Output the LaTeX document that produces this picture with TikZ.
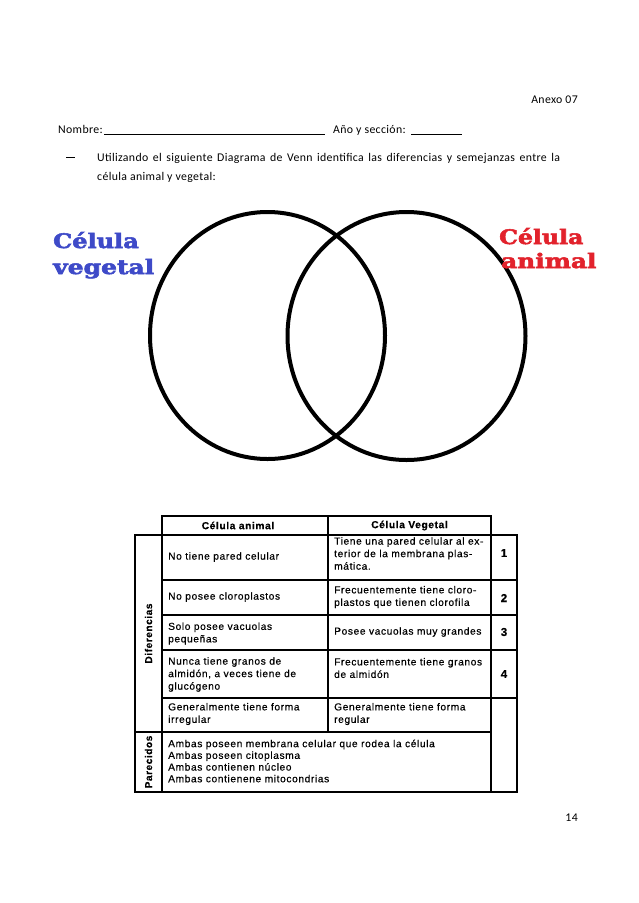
\documentclass[tikz,border=0pt]{standalone}
\usepackage{fontspec}
\setmainfont{Carlito}[LetterSpace=3]
\newfontfamily\tabfont{Liberation Sans}[LetterSpace=6,FakeBold=0.4]
\newfontfamily\lblfont{DejaVu Serif}[FakeBold=2.6]
\usetikzlibrary{shapes.geometric}
\definecolor{vegblue}{RGB}{62,74,200}
\definecolor{animred}{RGB}{226,34,44}
\begin{document}
\begin{tikzpicture}[x=1pt,y=-1pt,
  hdr/.style={font=\fontsize{11.8}{14}\selectfont, inner sep=0, anchor=base west},
  venn/.style={draw, line width=4pt, ellipse, inner sep=0},
  lbl/.style={font=\lblfont\bfseries\fontsize{20}{24}\selectfont, inner sep=0, anchor=base west},
  gridline/.style={line width=1.6pt},
  cell/.style={font=\tabfont\fontsize{10.2}{12.5}\selectfont, inner sep=0, anchor=west, align=left},
  headcell/.style={font=\tabfont\bfseries\fontsize{10.2}{12}\selectfont, inner sep=0},
  numcell/.style={font=\tabfont\bfseries\fontsize{11.5}{12}\selectfont, inner sep=0},
  sidecell/.style={font=\tabfont\bfseries\fontsize{10}{12}\selectfont, inner sep=0, rotate=90}]
\useasboundingbox (0,0) rectangle (638,903);
\fill[white] (0,0) rectangle (638,903);
% header text
\node[hdr, anchor=base east] (anexo) at (578,103) {Anexo 07};
\node[hdr] (nombre) at (58,133) {Nombre:};
\node[hdr] (blank1) at (104,133) {\rule[-1.5pt]{221pt}{0.6pt}};
\node[hdr] (anio) at (333,133) {Año y sección:};
\node[hdr] (blank2) at (411,133) {\rule[-1.5pt]{51pt}{0.6pt}};
\node[hdr] (dash) at (66,161) {\rule[3.2pt]{9pt}{0.6pt}};
\node[hdr] (instr1) at (97,161) {\makebox[463pt][s]{Utilizando el siguiente Diagrama de Venn identifica las diferencias y semejanzas entre la}};
\node[hdr] (instr2) at (97,180) {célula animal y vegetal:};
\node[hdr, anchor=base east] (page) at (578,821) {14};
% Venn
\node[venn, minimum width=235pt, minimum height=247pt] (vegcirc) at (267.5,335.5) {};
\node[venn, minimum width=238pt, minimum height=248pt] (animcirc) at (406.5,336) {};
\node[lbl, text=vegblue] (veg1) at (53,248) {\scalebox{1.2}[1]{Célula}};
\node[lbl, text=vegblue] (veg2) at (53,274) {\scalebox{1.25}[1]{vegetal}};
\node[lbl, text=animred] (anim1) at (499,244) {\scalebox{1.18}[1]{Célula}};
\node[lbl, text=animred] (anim2) at (501,268) {\scalebox{1.24}[1]{animal}};
% table grid
\draw[gridline] (162,516) rectangle (491,535);
\draw[gridline] (328,516) -- (328,732);
\draw[gridline] (135,535) rectangle (517,792);
\draw[gridline] (162,535) -- (162,792);
\draw[gridline] (491,535) -- (491,792);
\draw[gridline] (162,580) -- (517,580);
\draw[gridline] (162,615) -- (517,615);
\draw[gridline] (162,650) -- (517,650);
\draw[gridline] (162,698) -- (517,698);
\draw[gridline] (135,732) -- (491,732);
% table header
\node[headcell] (hA) at (238,525.5) {Célula animal};
\node[headcell] (hV) at (409.5,525.5) {Célula Vegetal};
% side labels
\node[sidecell] (dif) at (148.5,633.5) {Diferencias};
\node[sidecell] (par) at (148.5,762) {Parecidos};
% numbers
\node[numcell] (n1) at (504,553) {1};
\node[numcell] (n2) at (504,598) {2};
\node[numcell] (n3) at (504,632) {3};
\node[numcell] (n4) at (504,674) {4};
% row cells
\node[cell] (a1) at (168,557) {No tiene pared celular};
\node[cell] (v1) at (334,553.5) {Tiene una pared celular al ex-\\terior de la membrana plas-\\mática.};
\node[cell] (a2) at (168,597) {No posee cloroplastos};
\node[cell] (v2) at (334,597) {Frecuentemente tiene cloro-\\plastos que tienen clorofila};
\node[cell] (a3) at (168,633.5) {Solo posee vacuolas\\pequeñas};
\node[cell] (v3) at (334,632) {Posee vacuolas muy grandes};
\node[cell] (a4) at (168,674.5) {Nunca tiene granos de\\almidón, a veces tiene de\\glucógeno};
\node[cell] (v4) at (334,668) {Frecuentemente tiene granos\\de almidón};
\node[cell] (a5) at (168,714) {Generalmente tiene forma\\irregular};
\node[cell] (v5) at (334,714) {Generalmente tiene forma\\regular};
\node[cell, font=\tabfont\fontsize{10.2}{11.7}\selectfont] (p1) at (168,761) {Ambas poseen membrana celular que rodea la célula\\Ambas poseen citoplasma\\Ambas contienen núcleo\\Ambas contienene mitocondrias};
\end{tikzpicture}
\end{document}
